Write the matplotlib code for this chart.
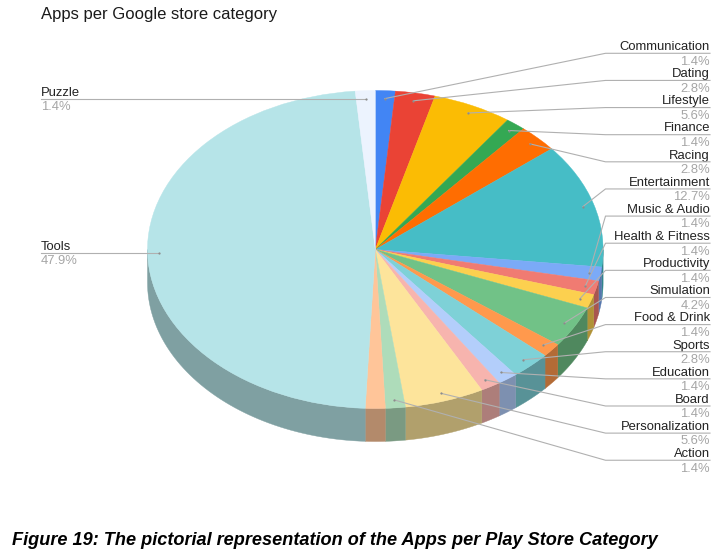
import numpy as np
import matplotlib
matplotlib.use("Agg")
import matplotlib.pyplot as plt

plt.rcParams['font.family'] = ['Liberation Sans', 'DejaVu Sans']

# clockwise from the top, the peach slice has no label in the original
categories = ["Communication", "Dating", "Lifestyle", "Finance", "Racing", "Entertainment",
              "Music & Audio", "Health & Fitness", "Productivity", "Simulation", "Food & Drink",
              "Sports", "Education", "Board", "Personalization", "Action", "", "Tools", "Puzzle"]
app_counts = [1, 2, 4, 1, 2, 9, 1, 1, 1, 3, 1, 2, 1, 1, 4, 1, 1, 34, 1]
colors = ["#4285F4", "#EA4335", "#FBBC04", "#34A853", "#FF6D01", "#46BDC6", "#7BAAF7", "#F07B72",
          "#FCD04F", "#71C287", "#FF994D", "#7ED1D7", "#B3CEFB", "#F7B4AE", "#FDE49B", "#AEDCBA",
          "#FFC599", "#B6E4E8", "#ECF3FE"]

title = "Apps per Google store category"
caption = "Figure 19: The pictorial representation of the Apps per Play Store Category"

W, H = 727, 555
cx, cy = 375.3, 249.5
rx, ry = 227.8, 159
depth = 33

fig = plt.figure(figsize=(W / 100, H / 100), dpi=100)

# pie axes covers exactly the top ellipse
ax = fig.add_axes([(cx - rx) / W, 1 - (cy + ry) / H, 2 * rx / W, 2 * ry / H])
wedges, _ = ax.pie(app_counts, colors=colors, startangle=90, counterclock=False,
                   wedgeprops={"linewidth": 0.3, "clip_on": False, "zorder": 3})
for w in wedges:
    w.set_edgecolor(w.get_facecolor())
ax.set_aspect("auto")
ax.set_xlim(-1, 1)
ax.set_ylim(-1, 1)

# side wall, only the front half is visible
total = sum(app_counts)
edges = np.cumsum([0] + app_counts) / total * 2 * np.pi
for i, col in enumerate(colors):
    a0, a1 = max(edges[i], np.pi / 2), min(edges[i + 1], 3 * np.pi / 2)
    if a1 <= a0:
        continue
    t = np.linspace(a0, a1, 60)
    xs = np.sin(t)
    ys = np.cos(t)
    rgb = np.array(matplotlib.colors.to_rgb(col)) * 0.7
    ax.fill(np.r_[xs, xs[::-1]], np.r_[ys, ys[::-1] - depth / ry], color=rgb,
            linewidth=0.3, clip_on=False, zorder=2)

# overlay in pixel coordinates for the labels and leader lines
ov = fig.add_axes([0, 0, 1, 1], facecolor="none")
ov.set_xlim(0, W)
ov.set_ylim(H, 0)
ov.axis("off")

line_col = "#b0b0b0"
text_col = "#222222"
pct_col = "#a6a6a6"
fs = 9.4

row = 0
for i, name in enumerate(categories):
    if not name:
        continue
    mid = (edges[i] + edges[i + 1]) / 2
    px = cx + 0.95 * rx * np.sin(mid)
    py = cy - 0.95 * ry * np.cos(mid)
    pct = f"{app_counts[i] / total * 100:.1f}%"
    if px > cx:
        ly = 53.3 + row * 27.13
        row += 1
        ov.plot([px, 605.5, 710], [py, ly, ly], color=line_col, lw=0.8, zorder=5)
        ov.text(710, ly - 3.2, name, ha="right", va="baseline", fontsize=fs, color=text_col)
        ov.text(710, ly + 11.3, pct, ha="right", va="baseline", fontsize=fs, color=pct_col)
    else:
        ov.plot([41, px], [py, py], color=line_col, lw=0.8, zorder=5)
        ov.text(41, py - 2.7, name, ha="left", va="baseline", fontsize=fs, color=text_col)
        ov.text(41, py + 11.5, pct, ha="left", va="baseline", fontsize=fs, color=pct_col)
    ov.plot([px], [py], "o", color="#8c8c8c", ms=1.6, mew=0, zorder=6)

ov.text(41, 18.5, title, ha="left", va="baseline", fontsize=12.0, color="#1a1a1a")
ov.text(12, 545, caption, ha="left", va="baseline", fontsize=13.1, color="black",
        fontweight="bold", fontstyle="italic")

fig.savefig("out.png", dpi=100)
